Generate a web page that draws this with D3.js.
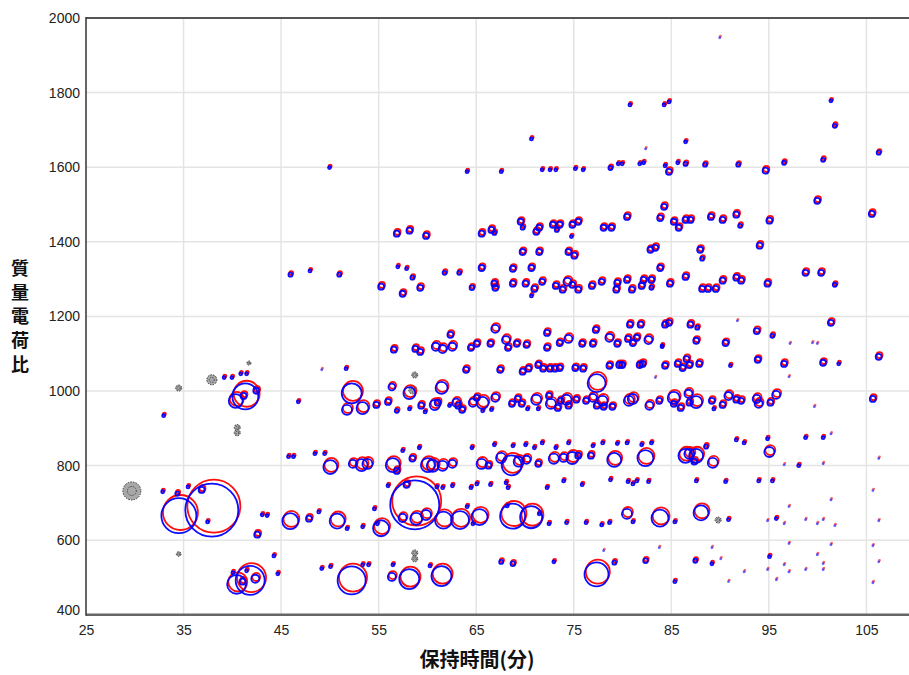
<!DOCTYPE html>
<html>
<head>
<meta charset="utf-8">
<script src="https://cdn.jsdelivr.net/npm/d3@7"></script>
<style>
  body { margin: 0; background: #fff; }
  svg { display: block; font-family: "Liberation Sans", Arial, sans-serif; }
  .tick text { font-size: 14px; fill: #222; }
  .axisTitle { font-family: "Noto Sans CJK JP", sans-serif; font-weight: bold; fill: #111; }
</style>
</head>
<body>
<div id="chart"></div>
<script>
// tick labels
const xTicks = [25, 35, 45, 55, 65, 75, 85, 95, 105];
const yTicks = [400, 600, 800, 1000, 1200, 1400, 1600, 1800, 2000];

// detected peaks: [retention time (min), m/z, abundance]
const peaks = [
    // ~500
    [40.5, 485, 100], [41.9, 496, 233], [42.4, 499, 18], [41.1, 491, 10], [41.5, 520, 2.5], [40.1, 515, 2.5],
    [52.3, 496, 218], [58.2, 499, 111], [61.5, 507, 111], [56.4, 504, 18], [49.2, 526, 2.5], [50.1, 531, 2.5],
    [53.4, 536, 2.5], [54.0, 536, 2.5], [56.5, 536, 2.5], [60.3, 533, 2.5], [67.6, 544, 4.5], [68.8, 539, 6],
    [73.0, 544, 2.5], [77.4, 512, 160], [79.2, 542, 4.5], [82.4, 547, 6], [83.8, 582, 0.6], [85.4, 491, 2.5],
    [87.5, 547, 4.5], [89.2, 582, 0.6], [89.2, 539, 2.5], [90.1, 552, 0.6], [90.9, 491, 0.6], [92.5, 517, 0.6],
    [94.9, 523, 0.6], [95.1, 558, 2.5], [95.8, 496, 0.6], [96.6, 536, 0.6], [97.1, 517, 0.6], [97.1, 593, 0.6],
    [98.8, 523, 0.6], [100.0, 563, 0.6], [100.6, 539, 0.6], [100.6, 523, 0.6], [101.4, 590, 0.6],
    [105.7, 587, 0.6], [106.3, 544, 0.6], [105.7, 488, 0.6], [78.1, 574, 0.6],
    // ~660
    [34.6, 670, 340], [38.0, 686, 780], [34.4, 727, 4.5], [35.5, 745, 2.5], [32.9, 732, 2.5], [36.9, 737, 10],
    [37.5, 651, 2.5], [46.0, 654, 71], [42.6, 617, 10], [43.1, 670, 2.5], [43.6, 668, 2.5], [44.3, 560, 2.5],
    [44.7, 512, 2.5], [47.9, 660, 10], [48.9, 678, 2.5], [50.8, 654, 62], [51.8, 633, 2.5], [53.4, 638, 2.5],
    [55.3, 635, 71], [54.9, 646, 2.5], [54.6, 686, 2.5], [58.8, 700, 667], [57.5, 662, 18], [58.9, 660, 40],
    [59.9, 670, 28], [61.7, 657, 80], [63.4, 657, 90], [65.4, 665, 71], [64.1, 692, 2.5], [64.7, 646, 2.5],
    [68.8, 668, 174], [70.7, 665, 135], [71.5, 673, 2.5], [72.5, 646, 2.5], [74.3, 649, 2.5], [76.3, 649, 2.5],
    [68.2, 694, 2.5], [80.5, 673, 28], [81.1, 651, 2.5], [83.9, 662, 80], [85.4, 651, 2.5], [88.1, 676, 62],
    [90.9, 657, 2.5], [78.7, 649, 2.5], [77.9, 643, 2.5], [94.9, 654, 0.6], [95.8, 660, 2.5], [96.6, 646, 0.6],
    [97.1, 692, 0.6], [98.8, 657, 0.6], [100.0, 646, 0.6], [100.6, 657, 0.6], [101.4, 710, 0.6],
    [101.8, 641, 0.6], [105.7, 735, 0.6], [106.3, 654, 0.6],
    // ~800
    [50.1, 799, 54], [52.4, 807, 18], [53.3, 804, 40], [53.9, 807, 28], [56.5, 804, 54], [56.9, 788, 10],
    [57.5, 842, 2.5], [59.2, 850, 2.5], [58.5, 821, 10], [60.1, 804, 54], [60.6, 802, 40], [61.6, 802, 28],
    [62.6, 807, 18], [64.6, 850, 2.5], [65.6, 807, 28], [66.3, 802, 10], [66.9, 858, 2.5], [67.6, 823, 28],
    [68.7, 804, 111], [69.4, 813, 28], [70.2, 818, 18], [68.8, 855, 2.5], [70.1, 858, 2.5], [71.0, 850, 2.5],
    [71.4, 807, 10], [71.8, 863, 2.5], [73.0, 821, 28], [73.2, 850, 2.5], [74.0, 823, 18], [74.5, 863, 2.5],
    [74.9, 823, 40], [75.5, 829, 10], [76.8, 829, 10], [77.0, 855, 2.5],
    [56.0, 748, 2.5], [57.9, 751, 10], [61.0, 745, 2.5], [61.6, 743, 2.5], [62.6, 748, 2.5], [64.5, 743, 2.5],
    [65.1, 753, 2.5], [66.5, 751, 2.5], [68.1, 756, 2.5], [68.3, 743, 2.5], [72.3, 743, 2.5], [74.0, 761, 2.5],
    [75.9, 751, 2.5], [78.0, 863, 2.5], [79.2, 818, 54], [79.5, 861, 2.5], [80.5, 863, 2.5], [82.0, 858, 2.5],
    [82.4, 823, 71], [83.0, 863, 2.5], [86.5, 829, 54], [86.9, 834, 28], [87.6, 829, 54], [87.4, 813, 10],
    [88.6, 853, 4.5], [89.3, 810, 28], [91.7, 871, 2.5], [92.5, 863, 2.5], [94.9, 874, 2.5], [95.1, 839, 28],
    [96.6, 804, 0.6], [98.1, 802, 2.5], [98.8, 877, 2.5], [100.6, 877, 2.5], [100.6, 807, 0.6],
    [101.4, 887, 0.6], [106.3, 821, 0.6], [78.8, 764, 2.5], [80.6, 759, 2.5], [81.1, 753, 2.5], [81.5, 761, 2.5],
    [82.7, 759, 2.5], [87.6, 761, 2.5], [90.6, 759, 2.5], [94.0, 761, 2.5], [95.4, 761, 2.5],
    [48.5, 834, 2.5], [49.5, 834, 2.5], [45.8, 826, 2.5], [46.3, 826, 2.5],
    // ~980
    [41.4, 989, 188], [40.4, 976, 54], [41.2, 989, 10], [42.5, 1003, 10], [33.0, 936, 2.5], [39.2, 1038, 2.5],
    [40.0, 1038, 2.5], [40.9, 1048, 2.5], [41.5, 1048, 2.5], [46.8, 973, 2.5], [52.3, 997, 111], [51.8, 952, 28],
    [53.4, 957, 40], [54.8, 965, 10], [56.0, 973, 10], [56.4, 1013, 13], [56.9, 949, 4.5], [58.2, 997, 40],
    [58.2, 954, 2.5], [59.4, 963, 10], [59.8, 946, 2.5], [60.8, 965, 28], [61.1, 971, 10], [61.5, 1011, 40],
    [62.3, 963, 2.5], [63.0, 971, 18], [63.2, 963, 10], [63.6, 952, 10], [64.7, 971, 18], [65.1, 984, 10],
    [65.7, 971, 40], [65.7, 949, 2.5], [66.6, 952, 2.5], [67.0, 984, 18], [68.7, 968, 10], [69.3, 981, 10],
    [69.7, 968, 10], [70.3, 954, 2.5], [71.2, 979, 28], [71.4, 954, 2.5], [72.5, 989, 10], [72.7, 968, 28],
    [73.4, 957, 10], [73.7, 976, 10], [74.3, 979, 28], [74.5, 963, 10], [75.3, 979, 10], [76.3, 976, 10],
    [77.0, 984, 18], [77.4, 1024, 90], [77.4, 963, 10], [78.0, 976, 28], [78.1, 960, 10], [79.0, 960, 10],
    [80.7, 976, 28], [81.1, 981, 28], [82.8, 963, 18], [83.8, 976, 10], [85.3, 984, 40], [85.3, 968, 10],
    [86.0, 957, 10], [86.8, 995, 18], [86.9, 971, 10], [87.6, 973, 40], [89.2, 976, 10], [89.4, 954, 2.5],
    [90.3, 965, 10], [90.9, 989, 18], [91.7, 979, 10], [92.2, 976, 10], [93.8, 981, 18], [94.0, 968, 18],
    [95.2, 971, 10], [95.8, 992, 18], [99.7, 960, 0.6], [105.7, 981, 10],
    // ~1080
    [78.7, 1070, 10], [79.7, 1072, 10], [80.0, 1072, 10], [81.8, 1072, 10], [82.1, 1075, 10], [83.4, 1038, 0.6],
    [84.4, 1070, 10], [85.7, 1075, 10], [86.2, 1064, 10], [86.6, 1088, 10], [86.9, 1072, 10], [87.9, 1075, 10],
    [91.1, 1070, 2.5], [93.9, 1086, 10], [96.6, 1075, 10], [97.1, 1040, 0.6], [100.6, 1078, 10],
    [102.2, 1075, 2.5], [106.3, 1094, 10], [79.5, 1129, 10], [81.1, 1131, 10], [84.1, 1121, 2.5],
    [87.6, 1137, 10], [90.6, 1131, 10], [97.2, 1129, 0.6], [99.5, 1131, 0.6], [100.0, 1129, 0.6],
    [49.2, 1059, 0.6], [51.7, 1062, 2.5], [64.0, 1059, 10], [67.5, 1059, 10], [69.8, 1054, 10], [70.4, 1062, 10],
    [71.4, 1072, 10], [71.9, 1062, 10], [72.6, 1062, 10], [73.1, 1062, 10], [73.6, 1064, 10], [75.2, 1064, 10],
    [76.0, 1062, 10],
    // ~1120
    [56.6, 1113, 10], [58.8, 1115, 10], [59.3, 1107, 10], [60.9, 1121, 18], [61.6, 1115, 18], [62.6, 1121, 18],
    [64.5, 1118, 10], [65.1, 1129, 10], [66.5, 1129, 10], [68.3, 1118, 10], [69.2, 1129, 10], [70.2, 1126, 10],
    [72.3, 1118, 10], [73.6, 1131, 10], [75.9, 1129, 10], [77.0, 1129, 10], [68.1, 1139, 18], [74.5, 1142, 18],
    [78.7, 1145, 18], [80.6, 1142, 10], [81.5, 1145, 10], [82.7, 1139, 18],
    // ~1170
    [62.4, 1153, 10], [67.0, 1169, 18], [72.3, 1158, 10], [77.3, 1166, 10], [80.8, 1180, 10], [81.9, 1180, 10],
    [84.4, 1180, 10], [84.8, 1185, 10], [84.1, 1123, 2.5], [87.0, 1180, 10], [87.7, 1172, 4.5], [93.8, 1163, 10],
    [95.4, 1150, 4.5], [101.4, 1185, 10], [91.8, 1190, 0.6],
    // ~1300
    [55.3, 1282, 10], [57.5, 1263, 10], [58.5, 1306, 4.5], [59.3, 1279, 10], [61.8, 1319, 4.5], [63.3, 1319, 4.5],
    [64.6, 1279, 6], [65.6, 1332, 10], [66.9, 1290, 10], [67.0, 1279, 10], [68.8, 1290, 10], [68.8, 1330, 10],
    [70.1, 1290, 10], [70.7, 1332, 10], [71.0, 1276, 10], [71.8, 1295, 10], [70.7, 1257, 2.5], [73.2, 1284, 10],
    [73.9, 1274, 10], [74.4, 1295, 18], [74.9, 1287, 10], [75.5, 1274, 10], [76.9, 1284, 10], [77.9, 1295, 10],
    [79.4, 1274, 10], [79.5, 1292, 10], [80.5, 1300, 10], [81.0, 1274, 10], [82.0, 1284, 10], [82.2, 1300, 10],
    [83.0, 1300, 10], [83.0, 1279, 4.5], [83.9, 1332, 10], [84.9, 1290, 10],
    [46.0, 1314, 4.5], [48.0, 1324, 2.5], [51.0, 1314, 4.5], [57.0, 1335, 2.5], [57.9, 1330, 2.5],
    [86.5, 1308, 10], [88.2, 1276, 10], [88.8, 1276, 10], [89.6, 1276, 10], [90.3, 1298, 10], [91.7, 1306, 10],
    [92.2, 1298, 10], [94.9, 1290, 10], [98.8, 1319, 10], [100.4, 1319, 10], [101.8, 1287, 4.5],
    // ~1380
    [69.8, 1375, 10], [71.5, 1375, 10], [74.5, 1375, 10], [75.1, 1365, 10], [82.9, 1381, 10], [83.4, 1386, 10],
    [88.0, 1381, 10], [88.2, 1357, 4.5], [94.1, 1392, 10],
    // ~1440
    [56.9, 1424, 10], [58.2, 1432, 10], [59.9, 1418, 10], [65.6, 1424, 10], [66.6, 1434, 10], [66.9, 1426, 4.5],
    [69.6, 1456, 10], [69.8, 1440, 4.5], [71.2, 1429, 10], [71.5, 1440, 10], [72.9, 1448, 10], [73.6, 1448, 10],
    [73.3, 1434, 4.5], [74.9, 1448, 10], [74.8, 1416, 2.5], [75.5, 1456, 10], [78.1, 1440, 10], [78.9, 1440, 10],
    [80.5, 1469, 10], [83.9, 1466, 10], [84.3, 1496, 10], [85.3, 1456, 10], [85.8, 1440, 10],
    [86.5, 1461, 10], [87.0, 1461, 10], [89.1, 1469, 10], [90.3, 1461, 10], [91.7, 1475, 10], [92.1, 1445, 4.5],
    [95.1, 1459, 10], [100.0, 1512, 10], [105.6, 1477, 10],
    // ~1600 and above
    [64.1, 1590, 2.5], [67.6, 1590, 2.5], [71.8, 1595, 2.5], [72.6, 1595, 2.5], [73.2, 1595, 2.5], [75.2, 1598, 2.5],
    [76.0, 1595, 2.5], [78.8, 1600, 4.5], [79.6, 1611, 2.5], [80.0, 1611, 2.5], [81.8, 1611, 2.5], [82.2, 1614, 2.5],
    [84.4, 1606, 2.5], [84.8, 1590, 10], [85.7, 1614, 2.5], [70.7, 1678, 2.5], [80.8, 1769, 2.5], [84.3, 1769, 2.5],
    [84.8, 1777, 2.5], [82.4, 1651, 0.6], [101.4, 1780, 2.5], [101.8, 1713, 4.5], [100.6, 1622, 4.5],
    [96.6, 1614, 4.5], [106.3, 1641, 4.5], [90.0, 1949, 0.6], [50.0, 1601, 2.5],
    [86.5, 1611, 4.5], [88.5, 1609, 4.5], [91.9, 1609, 4.5], [94.7, 1593, 10], [86.5, 1670, 2.5]
];

// unidentified features (grey)
const unknownPeaks = [
    [29.7, 732, 90], [41.7, 1075, 4.5], [37.9, 1030, 28], [34.5, 1008, 10], [40.5, 902, 10], [40.5, 888, 10],
    [34.5, 563, 6], [58.7, 1043, 10], [58.5, 1003, 18], [58.7, 566, 10], [58.7, 550, 10], [89.8, 654, 10]
];

const width = 909, height = 675;
const svg = d3.select("#chart").append("svg")
    .attr("width", width)
    .attr("height", height);

const x = d3.scaleLinear().domain([25, 110]).range([86, 86 + 85 * 9.755]);
const y = d3.scaleLinear().domain([400, 2000]).range([614.8, 18]);
const r = d3.scaleSqrt().domain([0, 1000]).range([0, 30]);

// grid
svg.append("g")
    .selectAll("line")
    .data(xTicks.slice(1))
    .join("line")
    .attr("x1", d => x(d)).attr("x2", d => x(d))
    .attr("y1", y(2000)).attr("y2", y(400))
    .attr("stroke", "#e4e4e4").attr("stroke-width", 1.5);

svg.append("g")
    .selectAll("line")
    .data(yTicks.slice(1, -1))
    .join("line")
    .attr("x1", x(25)).attr("x2", width)
    .attr("y1", d => y(d)).attr("y2", d => y(d))
    .attr("stroke", "#e4e4e4").attr("stroke-width", 1.5);

// axes
const xAxis = svg.append("g")
    .attr("transform", "translate(0," + y(400) + ")")
    .call(d3.axisBottom(x).tickValues(xTicks).tickFormat(d3.format("d")).tickSize(0).tickPadding(10));
xAxis.select(".domain").remove();

const yAxis = svg.append("g")
    .attr("transform", "translate(" + x(25) + ",0)")
    .call(d3.axisLeft(y).tickValues(yTicks).tickFormat(d3.format("d")).tickSize(0).tickPadding(6));
yAxis.select(".domain").remove();
yAxis.selectAll(".tick").filter(d => d === 400).select("text").attr("y", -5);

svg.selectAll(".tick text").attr("font-family", "Liberation Sans, Arial, sans-serif");

// frame
svg.append("line")
    .attr("x1", x(25)).attr("x2", width).attr("y1", y(2000)).attr("y2", y(2000))
    .attr("stroke", "#555").attr("stroke-width", 2);
svg.append("line")
    .attr("x1", x(25)).attr("x2", width).attr("y1", y(400)).attr("y2", y(400))
    .attr("stroke", "#666").attr("stroke-width", 2.5);
svg.append("line")
    .attr("x1", x(25)).attr("x2", x(25)).attr("y1", y(2000) - 1).attr("y2", y(400) + 1)
    .attr("stroke", "#333").attr("stroke-width", 1.5);

// grey features
const unk = svg.append("g");
unknownPeaks.forEach(d => {
    unk.append("circle")
        .attr("cx", x(d[0])).attr("cy", y(d[1])).attr("r", r(d[2]))
        .attr("fill", "#a8a8a8").attr("stroke", "#333")
        .attr("stroke-width", 1).attr("stroke-dasharray", "1.5,1.2");
    unk.append("circle")
        .attr("cx", x(d[0])).attr("cy", y(d[1])).attr("r", r(d[2]) * 0.5)
        .attr("fill", "none").attr("stroke", "#444")
        .attr("stroke-width", 1).attr("stroke-dasharray", "1.2,1.2");
});

// red and blue runs, drawn slightly apart
function shift(d) {
    return 0.7 + 0.05 * r(d[2]);
}

function drawRun(color, sign) {
    svg.append("g")
        .selectAll("circle")
        .data(peaks)
        .join("circle")
        .attr("cx", d => x(d[0]) + sign * shift(d) * 0.5)
        .attr("cy", d => y(d[1]) - sign * shift(d))
        .attr("r", d => r(d[2]))
        .attr("fill", "none")
        .attr("stroke", color)
        .attr("stroke-width", d => d[2] < 1 ? 1.4 : 1.8)
        .attr("stroke-opacity", d => d[2] < 1 ? 0.6 : 0.95);
}

drawRun("#ff0000", 1);
drawRun("#0000ff", -1);

// axis titles
svg.append("text")
    .attr("class", "axisTitle")
    .attr("x", 477).attr("y", 667)
    .attr("font-size", 20)
    .attr("text-anchor", "middle")
    .text("保持時間(分)");

const yTitle = svg.append("text")
    .attr("class", "axisTitle")
    .attr("font-size", 18)
    .attr("text-anchor", "middle");
"質量電荷比".split("").forEach((c, i) => {
    yTitle.append("tspan")
        .attr("x", 20)
        .attr("y", 275 + i * 24)
        .text(c);
});
</script>
</body>
</html>
